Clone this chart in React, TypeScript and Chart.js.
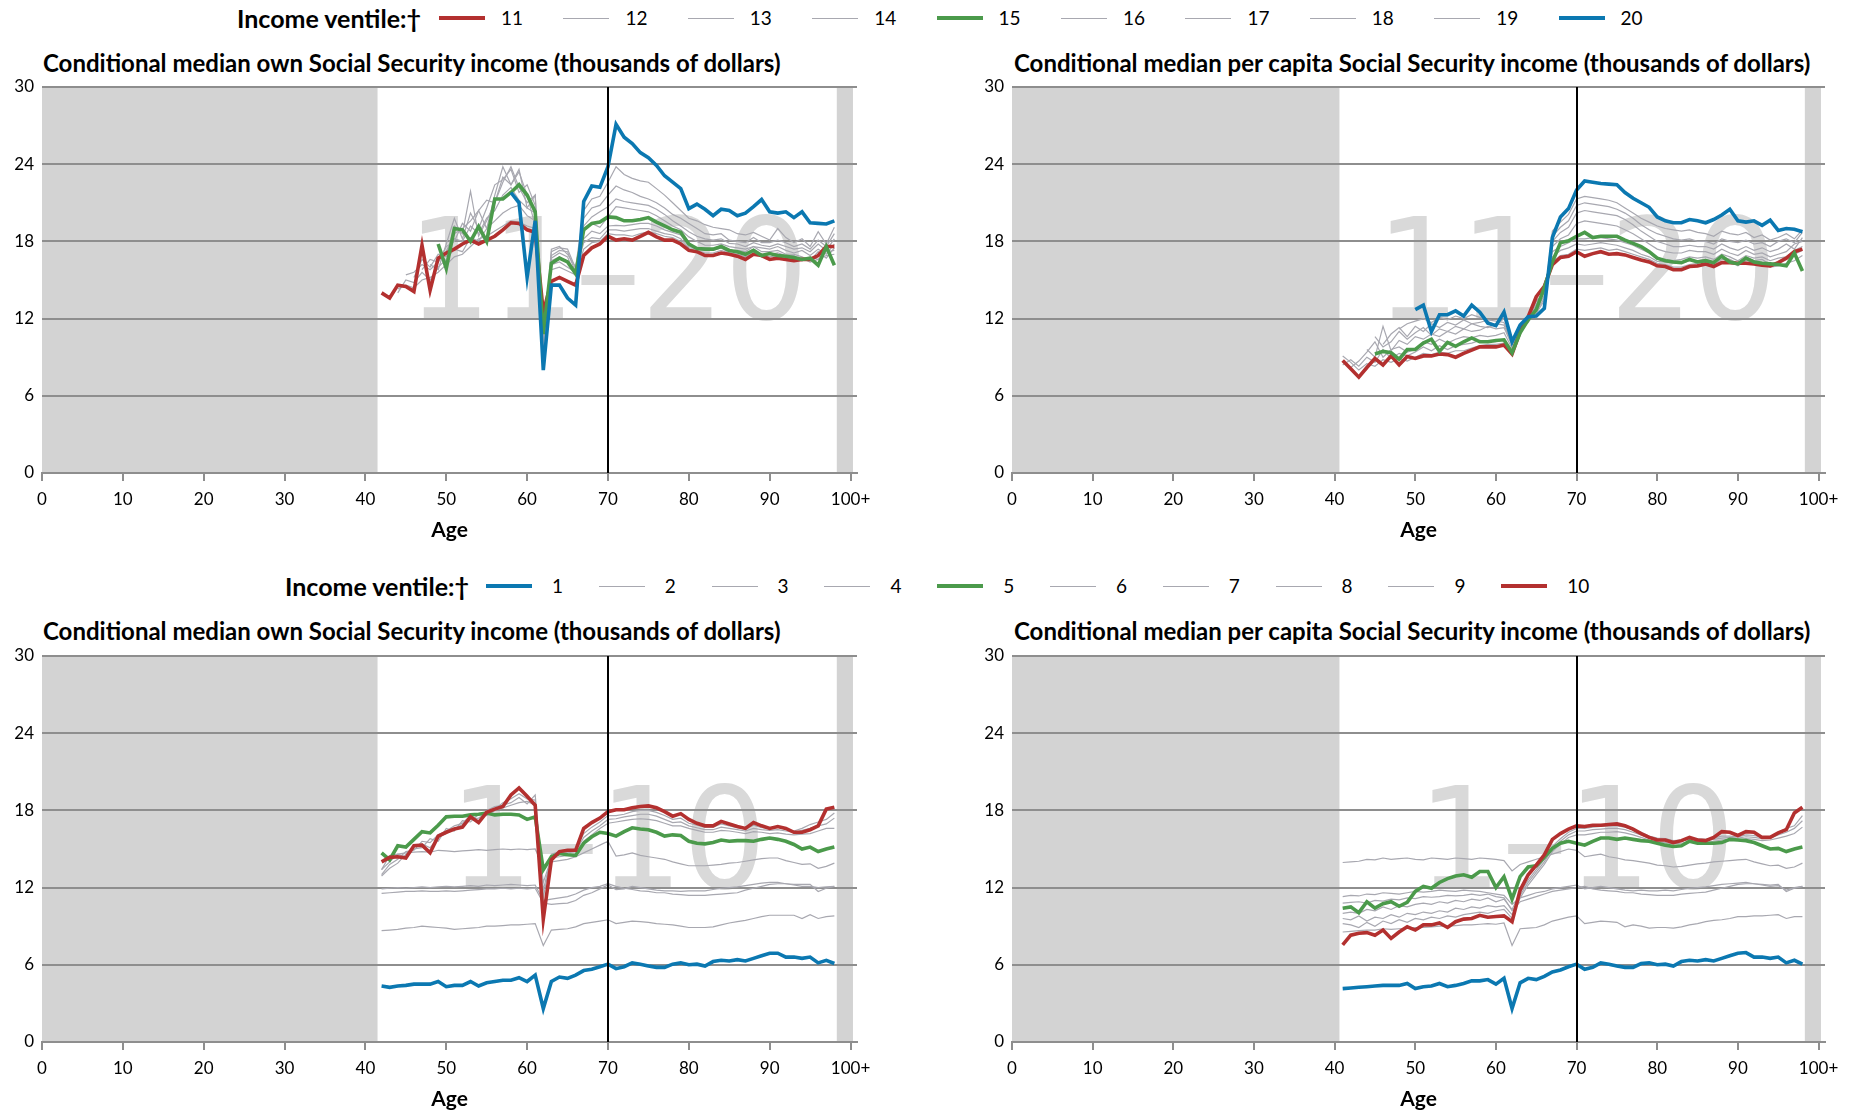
import React, { useEffect, useRef } from 'react';
import { Chart, registerables } from 'chart.js';

Chart.register(...registerables);

const RED = '#b3302f';
const GREEN = '#4b9a4b';
const BLUE = '#0b78b1';
const GRAY = '#a8a8b0';
const GRID = '#8e8e8e';
const SHADE = '#d3d3d3';
const MARK = '#d9d9d9';
const FONT = 'Lato, "Open Sans", sans-serif';
const N = null;

const xTickValues = [0, 10, 20, 30, 40, 50, 60, 70, 80, 90, 100];
const yTickValues = [0, 6, 12, 18, 24, 30];

const ages41 = [41, 42, 43, 44, 45, 46, 47, 48, 49, 50, 51, 52, 53, 54, 55, 56, 57, 58, 59, 60, 61, 62, 63, 64, 65, 66, 67, 68, 69, 70, 71, 72, 73, 74, 75, 76, 77, 78, 79, 80, 81, 82, 83, 84, 85, 86, 87, 88, 89, 90, 91, 92, 93, 94, 95, 96, 97, 98];
const ages42 = [42, 43, 44, 45, 46, 47, 48, 49, 50, 51, 52, 53, 54, 55, 56, 57, 58, 59, 60, 61, 62, 63, 64, 65, 66, 67, 68, 69, 70, 71, 72, 73, 74, 75, 76, 77, 78, 79, 80, 81, 82, 83, 84, 85, 86, 87, 88, 89, 90, 91, 92, 93, 94, 95, 96, 97, 98];

const topLegendLabels = ['11', '12', '13', '14', '15', '16', '17', '18', '19', '20'];
const topLegendColors = [RED, N, N, N, GREEN, N, N, N, N, BLUE];
const bottomLegendLabels = ['1', '2', '3', '4', '5', '6', '7', '8', '9', '10'];
const bottomLegendColors = [BLUE, N, N, N, GREEN, N, N, N, N, RED];

// ---------- Top-left: own SS income, ventiles 11-20 (ages 42..98)
const tl11 = [14.0, 13.6, 14.6, 14.5, 14.1, 17.7, 14.2, 16.7, 17.1, 17.4, 17.8, 18.1, 17.8, 18.1, 18.4, 18.9, 19.45, 19.4, 18.9, 18.7, 12.5, 14.9, 15.2, 14.9, 14.6, 16.9, 17.5, 17.8, 18.4, 18.1, 18.2, 18.1, 18.4, 18.7, 18.35, 18.1, 18.1, 17.8, 17.3, 17.2, 16.9, 16.9, 17.1, 17.0, 16.85, 16.6, 17.0, 16.9, 16.6, 16.7, 16.6, 16.5, 16.6, 16.6, 16.9, 17.6, 17.6];
const tl15 = [N, N, N, N, N, N, N, 17.8, 15.9, 19.0, 18.9, 18.0, 19.15, 18.0, 21.3, 21.3, 21.8, 22.4, 21.6, 20.3, 10.8, 16.3, 16.7, 16.4, 15.5, 18.9, 19.4, 19.5, 19.9, 19.85, 19.6, 19.6, 19.7, 19.85, 19.5, 19.2, 18.9, 18.7, 17.8, 17.45, 17.4, 17.4, 17.6, 17.3, 17.2, 17.0, 17.3, 16.9, 17.05, 16.9, 16.85, 16.75, 16.6, 16.7, 16.15, 17.6, 16.15];
const tl20 = [N, N, N, N, N, N, N, N, N, N, N, N, N, N, N, N, 21.8, 21.0, 15.2, 19.6, 8.0, 14.6, 14.6, 13.6, 13.05, 21.1, 22.3, 22.2, 23.8, 27.1, 26.1, 25.6, 24.9, 24.5, 23.9, 23.1, 22.6, 22.1, 20.55, 20.9, 20.5, 20.0, 20.5, 20.4, 20.0, 20.2, 20.7, 21.25, 20.3, 20.2, 20.3, 19.85, 20.3, 19.45, 19.4, 19.35, 19.6];
const tl12 = [N, N, 14.3, 14.6, 14.4, 15.0, 15.2, 15.6, 16.2, 16.8, 17.0, 17.6, 18.2, 18.4, 18.8, 19.2, 19.6, 19.5, 19.2, 19.0, 11.5, 15.8, 16.0, 15.7, 15.4, 17.4, 17.9, 18.0, 18.6, 18.5, 18.5, 18.4, 18.6, 18.75, 18.6, 18.4, 18.3, 18.0, 17.4, 17.3, 17.1, 17.1, 17.3, 17.1, 17.0, 16.8, 17.1, 16.9, 16.8, 16.9, 16.8, 16.6, 16.7, 16.4, 16.6, 16.9, 17.0];
const tl13 = [N, N, 14.0, 15.0, 14.8, 15.6, 15.0, 16.0, 16.6, 17.4, 17.2, 18.3, 18.0, 19.0, 19.6, 20.2, 20.6, 20.8, 20.0, 19.6, 11.0, 16.2, 16.4, 16.0, 15.6, 17.9, 18.3, 18.2, 18.9, 18.9, 18.8, 18.9, 19.0, 19.0, 18.8, 18.6, 18.5, 18.2, 17.5, 17.45, 17.3, 17.3, 17.5, 17.1, 17.1, 17.0, 17.4, 17.0, 17.0, 17.1, 16.9, 16.9, 16.5, 16.8, 16.6, 17.2, 17.3];
const tl14 = [N, N, N, 15.4, 15.6, 16.2, 15.8, 16.4, 17.2, 18.2, 18.0, 19.2, 18.6, 19.8, 20.4, 21.6, 22.2, 21.2, 20.6, 20.2, 10.8, 16.5, 16.8, 16.4, 15.8, 18.2, 18.8, 18.6, 19.2, 19.25, 19.2, 19.3, 19.4, 19.4, 19.2, 18.9, 18.7, 18.5, 17.6, 17.5, 17.5, 17.4, 17.7, 17.2, 17.3, 17.2, 17.6, 17.2, 17.2, 17.3, 17.0, 17.0, 16.8, 16.5, 17.2, 16.7, 17.5];
const tl16 = [N, N, N, N, 15.2, 16.6, 16.0, 17.0, 16.8, 19.2, 18.6, 21.9, 18.4, 19.6, 21.0, 22.6, 23.8, 22.2, 21.0, 21.6, 10.5, 16.7, 17.1, 16.8, 15.3, 18.8, 19.4, 19.1, 19.9, 20.7, 20.6, 20.5, 20.4, 20.3, 20.0, 19.6, 19.2, 18.9, 18.35, 18.0, 17.7, 17.7, 17.8, 17.6, 17.5, 17.4, 17.6, 17.5, 17.4, 17.6, 17.3, 17.1, 17.3, 16.9, 17.4, 17.0, 17.8];
const tl17 = [N, N, N, N, N, 15.8, 16.6, 16.4, 17.6, 18.0, 19.4, 18.8, 20.4, 19.0, 21.6, 23.8, 22.4, 23.4, 21.6, 19.2, 10.2, 16.9, 17.3, 17.2, 15.6, 19.2, 19.9, 20.3, 20.7, 21.3, 21.1, 21.0, 20.9, 20.8, 20.5, 20.1, 19.6, 19.2, 18.75, 18.4, 18.2, 18.1, 18.2, 17.85, 17.8, 17.6, 17.9, 17.7, 17.6, 17.8, 17.6, 17.4, 17.5, 17.2, 17.8, 17.3, 18.2];
const tl18 = [N, N, N, N, N, N, 16.2, 15.8, 17.8, 19.8, 18.2, 20.2, 19.0, 20.6, 22.4, 22.8, 23.6, 21.8, 22.4, 20.8, 9.8, 17.2, 17.5, 17.4, 15.9, 19.8, 20.6, 20.8, 21.6, 22.3, 22.0, 21.8, 21.5, 21.3, 21.0, 20.6, 20.1, 19.8, 19.4, 19.0, 18.6, 18.5, 18.6, 18.1, 18.0, 17.9, 18.3, 17.9, 17.9, 18.1, 17.9, 17.6, 17.8, 17.4, 18.1, 17.6, 18.6];
const tl19 = [N, N, N, N, N, N, N, N, 17.2, 18.6, 19.0, 19.6, 20.4, 21.2, 21.0, 23.0, 22.4, 23.6, 20.6, 21.6, 9.2, 17.4, 17.6, 17.0, 16.0, 20.4, 21.3, 21.5, 22.6, 23.8, 23.2, 22.9, 22.7, 22.6, 22.1, 21.6, 21.0, 20.4, 19.8, 19.6, 19.3, 19.1, 19.0, 18.9, 18.6, 18.5, 18.7, 18.4, 18.1, 19.0, 18.3, 17.9, 18.2, 17.6, 18.75, 17.8, 19.1];

// ---------- Top-right: per capita SS income, ventiles 11-20 (ages 41..98)
const tr11 = [8.75, 8.1, 7.45, 8.2, 8.9, 8.4, 9.1, 8.4, 9.05, 8.9, 9.1, 9.1, 9.25, 9.2, 9.0, 9.3, 9.55, 9.8, 9.8, 9.8, 9.95, 9.25, 11.0, 12.15, 13.7, 14.5, 16.2, 16.75, 16.85, 17.2, 16.85, 17.05, 17.2, 17.0, 17.05, 16.95, 16.75, 16.55, 16.4, 16.1, 16.05, 15.8, 15.8, 16.05, 16.1, 16.25, 16.05, 16.35, 16.35, 16.3, 16.3, 16.25, 16.15, 16.1, 16.35, 16.7, 17.2, 17.4];
const tr15 = [N, N, N, N, 9.25, 9.45, 9.35, 8.85, 9.6, 9.6, 10.1, 10.4, 9.45, 10.15, 9.85, 10.2, 10.5, 10.2, 10.2, 10.3, 10.35, 9.35, 10.9, 11.9, 12.7, 14.4, 16.4, 17.9, 18.05, 18.4, 18.7, 18.3, 18.4, 18.4, 18.4, 18.1, 17.85, 17.6, 17.2, 16.7, 16.5, 16.4, 16.35, 16.6, 16.4, 16.5, 16.35, 16.85, 16.4, 16.25, 16.7, 16.4, 16.3, 16.25, 16.2, 16.1, 17.1, 15.7];
const tr20 = [N, N, N, N, N, N, N, N, N, 12.7, 13.05, 11.0, 12.3, 12.3, 12.6, 12.2, 13.05, 12.5, 11.65, 11.45, 12.5, 10.2, 11.5, 12.15, 12.2, 12.8, 18.3, 19.9, 20.55, 22.0, 22.7, 22.6, 22.5, 22.45, 22.4, 21.8, 21.35, 21.0, 20.65, 19.9, 19.6, 19.45, 19.45, 19.7, 19.6, 19.45, 19.7, 20.05, 20.5, 19.6, 19.5, 19.6, 19.25, 19.65, 18.85, 19.0, 18.95, 18.75];
const tr12 = [9.1, 8.6, 8.0, 8.5, 8.3, 8.8, 8.6, 8.9, 8.7, 9.0, 9.3, 9.2, 9.4, 9.3, 9.5, 9.5, 9.7, 9.9, 10.0, 10.0, 10.1, 9.3, 10.9, 12.1, 13.4, 14.0, 16.4, 16.9, 17.0, 17.4, 17.3, 17.4, 17.5, 17.3, 17.4, 17.2, 17.0, 16.8, 16.6, 16.3, 16.2, 16.0, 16.0, 16.2, 16.3, 16.4, 16.2, 16.6, 16.5, 16.1, 16.5, 16.4, 16.3, 16.0, 16.1, 16.3, 16.5, 16.9];
const tr13 = [8.4, 8.8, 8.3, 9.0, 8.6, 9.6, 8.9, 9.3, 9.1, 9.4, 9.8, 9.5, 9.9, 9.6, 9.9, 10.0, 10.1, 10.3, 10.2, 10.2, 10.4, 9.5, 11.0, 12.0, 13.3, 14.1, 16.8, 17.3, 17.5, 17.8, 17.7, 17.8, 17.9, 17.8, 17.7, 17.5, 17.3, 17.0, 16.8, 16.45, 16.4, 16.3, 16.3, 16.5, 16.5, 16.6, 16.4, 16.8, 16.6, 16.3, 16.8, 16.5, 16.6, 16.2, 16.4, 16.6, 17.0, 17.3];
const tr14 = [N, 8.2, 8.7, 9.4, 10.2, 9.0, 9.6, 9.8, 9.4, 9.6, 10.2, 10.0, 10.4, 10.1, 10.4, 10.6, 10.5, 10.7, 10.6, 10.7, 10.9, 9.7, 11.1, 11.9, 13.1, 14.2, 17.2, 17.6, 17.9, 18.2, 18.2, 18.3, 18.3, 18.2, 18.1, 17.9, 17.7, 17.4, 17.1, 16.6, 16.6, 16.5, 16.6, 16.8, 16.7, 16.8, 16.6, 17.0, 16.8, 16.5, 16.9, 16.7, 16.8, 16.5, 16.7, 16.8, 17.3, 17.6];
const tr16 = [N, N, N, 9.6, 9.0, 11.4, 9.5, 10.3, 10.0, 10.6, 10.4, 10.8, 10.6, 11.0, 10.8, 11.2, 11.0, 11.1, 11.4, 11.2, 11.3, 9.9, 11.2, 11.8, 12.9, 14.0, 17.6, 18.2, 18.5, 19.4, 19.6, 19.5, 19.4, 19.3, 19.2, 18.9, 18.6, 18.2, 17.8, 17.4, 17.2, 17.1, 17.1, 17.3, 17.2, 17.2, 17.0, 17.4, 17.1, 16.9, 17.3, 17.0, 17.1, 16.8, 17.0, 17.2, 17.8, 18.0];
const tr17 = [N, N, N, N, 10.6, 9.8, 10.2, 11.0, 10.4, 10.9, 11.3, 10.7, 11.2, 11.0, 11.4, 11.2, 11.6, 11.4, 11.3, 11.6, 11.5, 10.0, 11.3, 11.7, 12.7, 13.8, 18.0, 18.7, 19.1, 20.2, 20.4, 20.3, 20.2, 20.1, 20.0, 19.7, 19.3, 18.8, 18.4, 18.0, 17.8, 17.6, 17.6, 17.7, 17.6, 17.6, 17.4, 17.8, 17.5, 17.3, 17.6, 17.3, 17.5, 17.2, 17.4, 17.8, 17.4, 18.3];
const tr18 = [N, N, N, N, N, 10.0, 10.8, 11.3, 10.6, 11.4, 11.0, 11.6, 11.3, 11.7, 11.5, 11.9, 11.6, 11.7, 11.9, 11.8, 11.7, 10.1, 11.4, 11.8, 12.5, 13.6, 18.4, 19.1, 19.6, 20.8, 21.0, 20.9, 20.8, 20.7, 20.5, 20.2, 19.8, 19.3, 18.9, 18.6, 18.4, 18.2, 18.1, 18.2, 18.0, 18.0, 17.8, 18.2, 18.0, 17.9, 18.1, 17.8, 17.9, 17.6, 18.0, 18.2, 17.9, 18.7];
const tr19 = [N, N, N, N, N, N, N, 11.2, 11.6, 11.8, 12.0, 11.7, 12.1, 11.9, 12.2, 12.0, 12.3, 12.1, 11.8, 11.5, 12.0, 10.3, 11.3, 11.9, 12.4, 13.4, 18.8, 19.5, 20.1, 21.3, 21.5, 21.4, 21.3, 21.2, 21.0, 20.6, 20.2, 19.8, 19.5, 19.2, 19.0, 18.9, 18.8, 18.9, 18.7, 18.6, 18.4, 18.8, 18.6, 18.5, 18.7, 18.3, 18.5, 18.1, 18.3, 18.6, 18.2, 18.9];

// ---------- Bottom-left: own SS income, ventiles 1-10 (ages 42..98)
const bl10 = [14.0, 14.35, 14.4, 14.3, 15.25, 15.3, 14.7, 16.0, 16.3, 16.55, 16.7, 17.5, 17.05, 17.85, 18.1, 18.3, 19.2, 19.75, 19.1, 18.4, 9.55, 14.15, 14.8, 14.9, 14.9, 16.6, 17.05, 17.4, 17.9, 18.05, 18.05, 18.2, 18.3, 18.35, 18.2, 17.9, 17.55, 17.75, 17.3, 17.0, 16.8, 16.8, 17.15, 16.95, 16.75, 16.6, 17.05, 16.8, 16.6, 16.75, 16.6, 16.3, 16.3, 16.5, 16.8, 18.1, 18.25];
const bl5 = [14.7, 14.15, 15.25, 15.15, 15.75, 16.35, 16.25, 16.85, 17.5, 17.55, 17.55, 17.65, 17.7, 17.8, 17.65, 17.7, 17.7, 17.65, 17.3, 17.5, 13.4, 14.4, 14.65, 14.55, 14.5, 15.45, 15.95, 16.3, 16.2, 16.0, 16.35, 16.65, 16.55, 16.5, 16.3, 16.0, 16.1, 16.05, 15.6, 15.45, 15.4, 15.5, 15.7, 15.6, 15.65, 15.65, 15.6, 15.75, 15.85, 15.75, 15.6, 15.35, 15.0, 15.15, 14.8, 15.0, 15.15];
const bl1 = [4.35, 4.25, 4.35, 4.4, 4.5, 4.5, 4.5, 4.7, 4.3, 4.4, 4.4, 4.7, 4.35, 4.6, 4.7, 4.8, 4.8, 5.0, 4.7, 5.2, 2.6, 4.7, 5.05, 4.95, 5.2, 5.55, 5.65, 5.85, 6.05, 5.7, 5.85, 6.15, 6.05, 5.9, 5.8, 5.8, 6.05, 6.15, 6.0, 6.05, 5.9, 6.25, 6.35, 6.3, 6.4, 6.3, 6.5, 6.7, 6.9, 6.9, 6.6, 6.6, 6.5, 6.6, 6.15, 6.35, 6.1];
const bl2 = [8.65, 8.7, 8.75, 8.85, 8.9, 9.0, 8.95, 8.9, 8.85, 8.75, 8.8, 8.85, 8.9, 9.0, 9.0, 9.05, 9.1, 9.1, 9.15, 9.2, 7.5, 8.7, 8.75, 8.8, 8.95, 9.2, 9.3, 9.4, 9.5, 9.2, 9.3, 9.4, 9.35, 9.3, 9.2, 9.15, 9.1, 9.0, 8.9, 8.9, 8.9, 8.95, 9.1, 9.25, 9.35, 9.45, 9.6, 9.75, 9.85, 9.85, 9.85, 9.85, 9.6, 9.9, 9.6, 9.75, 9.8];
const bl3 = [11.55, 11.6, 11.65, 11.7, 11.7, 11.75, 11.7, 11.7, 11.75, 11.7, 11.75, 11.8, 11.85, 11.9, 11.9, 11.95, 11.9, 11.95, 11.9, 11.95, 10.8, 10.7, 10.75, 10.8, 11.0, 11.4, 11.6, 11.9, 12.2, 11.85, 11.9, 12.1, 12.0, 11.9, 11.8, 11.75, 11.75, 11.7, 11.75, 11.75, 11.75, 11.85, 11.95, 12.0, 12.05, 12.15, 12.25, 12.35, 12.4, 12.4, 12.3, 12.2, 12.1, 12.1, 12.0, 12.05, 12.1];
const bl4 = [11.9, 11.95, 12.0, 11.95, 12.0, 12.05, 12.0, 12.05, 12.1, 12.05, 12.1, 12.15, 12.1, 12.2, 12.15, 12.2, 12.25, 12.2, 12.15, 12.2, 11.0, 11.1, 11.2, 11.3, 11.5, 11.8, 12.0, 12.1, 12.3, 12.1, 11.95, 11.85, 11.75, 11.7, 11.6, 11.6, 11.5, 11.45, 11.4, 11.4, 11.4, 11.45, 11.5, 11.55, 11.6, 11.8, 11.95, 12.1, 12.25, 12.3, 12.3, 12.25, 12.25, 12.25, 11.7, 11.95, 12.1];
const bl6 = [13.4, 14.5, 14.6, 14.7, 14.75, 14.8, 14.75, 14.9, 14.85, 14.8, 14.85, 14.9, 14.95, 14.9, 14.95, 15.0, 14.95, 15.0, 14.95, 15.0, 13.6, 14.0, 14.1, 14.2, 14.4, 14.7, 15.0, 15.3, 15.6, 14.45, 14.55, 14.7, 14.5, 14.4, 14.3, 14.2, 14.0, 13.85, 13.7, 13.7, 13.7, 13.75, 13.8, 13.9, 13.95, 14.05, 14.15, 14.25, 14.3, 14.3, 14.1, 13.95, 13.8, 13.85, 13.5, 13.65, 13.9];
const bl7 = [12.9, 13.5, 13.9, 14.6, 15.0, 15.1, 15.8, 15.6, 16.6, 16.4, 17.2, 17.1, 17.7, 17.6, 18.0, 18.2, 18.4, 18.6, 18.7, 18.4, 12.4, 14.3, 14.4, 14.5, 14.6, 15.6, 16.1, 16.6, 17.0, 17.1, 17.2, 17.3, 17.35, 17.3, 17.2, 17.0, 16.8, 16.8, 16.6, 16.45, 16.3, 16.3, 16.45, 16.4, 16.3, 16.2, 16.35, 16.3, 16.2, 16.25, 16.15, 16.1, 16.15, 16.2, 16.4, 16.6, 16.6];
const bl8 = [13.0, 13.8, 14.2, 14.8, 14.9, 15.6, 15.5, 16.1, 16.4, 16.8, 17.0, 17.6, 17.2, 18.0, 18.3, 18.4, 18.6, 19.0, 18.5, 19.2, 11.8, 14.4, 14.6, 14.7, 14.8, 15.9, 16.4, 16.8, 17.3, 17.35, 17.5, 17.6, 17.7, 17.7, 17.55, 17.3, 17.05, 17.1, 16.8, 16.65, 16.5, 16.5, 16.7, 16.6, 16.5, 16.4, 16.6, 16.5, 16.45, 16.5, 16.4, 16.3, 16.45, 16.6, 16.8, 16.95, 17.4];
const bl9 = [13.4, 14.0, 14.6, 14.4, 15.2, 15.4, 15.1, 15.9, 16.2, 16.6, 16.9, 17.3, 17.4, 17.8, 18.1, 18.6, 18.9, 19.3, 18.9, 18.8, 11.2, 14.6, 14.8, 14.9, 15.0, 16.2, 16.7, 17.1, 17.6, 17.6, 17.7, 17.9, 18.0, 18.0, 17.85, 17.6, 17.3, 17.4, 17.0, 16.85, 16.7, 16.7, 16.95, 16.8, 16.65, 16.55, 16.85, 16.65, 16.6, 16.7, 16.55, 16.4, 16.6, 16.9, 17.1, 17.3, 17.8];

// ---------- Bottom-right: per capita SS income, ventiles 1-10 (ages 41..98)
const br10 = [7.55, 8.3, 8.45, 8.5, 8.3, 8.7, 8.05, 8.55, 8.95, 8.7, 9.1, 9.1, 9.25, 8.9, 9.35, 9.55, 9.6, 9.85, 9.7, 9.75, 9.8, 9.35, 11.8, 13.0, 13.75, 14.55, 15.75, 16.2, 16.55, 16.8, 16.75, 16.85, 16.85, 16.9, 16.95, 16.8, 16.55, 16.2, 15.9, 15.7, 15.7, 15.5, 15.65, 15.9, 15.7, 15.65, 15.9, 16.35, 16.3, 16.05, 16.35, 16.3, 15.9, 15.9, 16.25, 16.5, 17.8, 18.25];
const br5 = [10.4, 10.5, 10.05, 10.9, 10.4, 10.75, 10.9, 10.55, 10.85, 11.7, 12.1, 11.95, 12.4, 12.7, 12.9, 13.0, 12.8, 13.25, 13.25, 12.0, 12.85, 11.1, 12.85, 13.6, 13.7, 14.35, 15.05, 15.45, 15.6, 15.45, 15.3, 15.6, 15.85, 15.85, 15.75, 15.85, 15.75, 15.65, 15.6, 15.45, 15.3, 15.2, 15.25, 15.6, 15.45, 15.45, 15.45, 15.5, 15.75, 15.7, 15.65, 15.5, 15.25, 15.0, 15.05, 14.8, 15.0, 15.15];
const br1 = [4.15, 4.2, 4.25, 4.3, 4.35, 4.4, 4.4, 4.4, 4.55, 4.15, 4.3, 4.35, 4.55, 4.3, 4.4, 4.55, 4.75, 4.75, 4.85, 4.5, 4.95, 2.6, 4.6, 4.95, 4.85, 5.1, 5.45, 5.6, 5.85, 6.05, 5.65, 5.8, 6.15, 6.05, 5.9, 5.8, 5.8, 6.1, 6.15, 6.0, 6.05, 5.9, 6.25, 6.35, 6.3, 6.4, 6.3, 6.5, 6.7, 6.9, 6.95, 6.6, 6.6, 6.5, 6.6, 6.15, 6.35, 6.05];
const br2 = [8.55, 8.6, 8.65, 8.7, 8.7, 8.8, 8.75, 8.8, 8.85, 8.9, 8.9, 8.95, 9.0, 9.0, 9.05, 9.1, 9.1, 9.15, 9.2, 9.15, 9.25, 7.5, 8.8, 8.85, 8.9, 9.1, 9.4, 9.55, 9.7, 9.8, 9.2, 9.3, 9.4, 9.35, 9.3, 8.95, 9.1, 9.0, 8.85, 8.9, 8.9, 8.85, 8.95, 9.1, 9.2, 9.35, 9.45, 9.5, 9.6, 9.75, 9.75, 9.8, 9.8, 9.85, 9.9, 9.6, 9.75, 9.75];
const br3 = [9.2, 9.1, 8.9, 9.3, 9.0, 9.4, 9.2, 9.5, 9.3, 9.6, 9.5, 9.7, 9.6, 9.8, 9.7, 9.9, 10.0, 10.1, 10.0, 10.2, 10.3, 9.6, 11.2, 12.2, 13.0, 13.8, 14.8, 15.4, 15.9, 16.1, 16.1, 16.2, 16.3, 16.3, 16.35, 16.25, 16.1, 15.9, 15.7, 15.55, 15.5, 15.4, 15.45, 15.6, 15.55, 15.5, 15.6, 15.7, 15.75, 15.7, 15.8, 15.75, 15.65, 15.7, 15.85, 16.0, 16.2, 16.7];
const br4 = [9.6, 9.5, 9.8, 9.4, 9.7, 9.6, 9.9, 9.7, 10.0, 9.9, 10.1, 10.0, 10.2, 10.1, 10.4, 10.3, 10.5, 10.4, 10.6, 10.5, 10.6, 9.9, 11.4, 12.4, 13.2, 14.0, 15.0, 15.6, 16.1, 16.4, 16.4, 16.5, 16.55, 16.6, 16.6, 16.5, 16.3, 16.1, 15.85, 15.7, 15.65, 15.55, 15.6, 15.75, 15.7, 15.65, 15.75, 15.85, 15.9, 15.85, 15.95, 15.9, 15.8, 15.85, 16.1, 16.3, 16.6, 17.2];
const br6 = [10.0, 10.1, 10.0, 10.3, 10.2, 10.5, 10.3, 10.6, 10.5, 10.7, 10.8, 10.7, 10.9, 10.8, 11.0, 10.9, 11.1, 11.0, 11.2, 10.9, 11.1, 10.3, 11.6, 12.6, 13.4, 14.2, 15.2, 15.8, 16.3, 16.6, 16.6, 16.7, 16.75, 16.8, 16.8, 16.7, 16.5, 16.3, 16.0, 15.85, 15.8, 15.65, 15.7, 15.85, 15.8, 15.75, 15.85, 16.0, 16.0, 15.95, 16.1, 16.05, 15.9, 15.95, 16.3, 16.6, 16.8, 17.6];
const br7 = [10.8, 10.85, 10.9, 10.8, 11.0, 10.95, 11.1, 11.05, 11.2, 11.15, 11.3, 11.25, 11.3, 11.4, 11.35, 11.4, 11.5, 11.4, 11.5, 11.3, 11.2, 10.2, 10.9, 11.1, 11.3, 11.5, 11.7, 11.8, 11.9, 12.0, 12.1, 11.9, 11.8, 11.75, 11.7, 11.6, 11.6, 11.5, 11.45, 11.4, 11.4, 11.4, 11.5, 11.55, 11.6, 11.65, 11.8, 11.95, 12.1, 12.25, 12.3, 12.3, 12.25, 12.2, 12.25, 11.7, 11.95, 12.1];
const br8 = [11.3, 11.4, 11.35, 11.5, 11.45, 11.6, 11.55, 11.5, 11.6, 11.7, 11.65, 11.7, 11.8, 11.75, 11.7, 11.8, 11.75, 11.7, 11.6, 11.5, 11.4, 10.7, 11.2, 11.4, 11.6, 11.7, 11.9, 12.0, 12.1, 12.2, 11.9, 12.0, 12.1, 12.0, 11.9, 11.8, 11.75, 11.8, 11.75, 11.75, 11.8, 11.75, 11.85, 11.95, 12.0, 12.05, 12.15, 12.25, 12.3, 12.35, 12.4, 12.3, 12.2, 12.1, 12.15, 11.8, 12.0, 12.1];
const br9 = [13.95, 14.0, 14.05, 14.2, 14.15, 14.3, 14.2, 14.25, 14.3, 14.2, 14.15, 14.3, 14.25, 14.2, 14.3, 14.25, 14.2, 14.3, 14.25, 14.2, 14.1, 13.3, 13.8, 14.0, 14.2, 14.4, 14.6, 14.8, 15.0, 14.9, 14.4, 14.5, 14.6, 14.4, 14.3, 14.15, 14.1, 14.0, 13.9, 13.75, 13.7, 13.6, 13.65, 13.75, 13.85, 13.9, 14.0, 14.05, 14.1, 14.15, 14.2, 14.0, 13.85, 13.7, 13.75, 13.5, 13.6, 13.9];

const OWN_TITLE = 'Conditional median own Social Security income (thousands of dollars)';
const PC_TITLE = 'Conditional median per capita Social Security income (thousands of dollars)';

type Hi = { vals: (number | null)[]; color: string; order: number };
type PanelCfg = {
  left: number; top: number; padRight: number; ages: number[]; shadeEnd: number; mark: string;
  grays: (number | null)[][]; highs: Hi[];
};

const panels: PanelCfg[] = [
  { left: 0, top: 70, padRight: 23, ages: ages42, shadeEnd: 41.5, mark: '11–20',
    grays: [tl12, tl13, tl14, tl16, tl17, tl18, tl19],
    highs: [{ vals: tl20, color: BLUE, order: 0 }, { vals: tl15, color: GREEN, order: 1 }, { vals: tl11, color: RED, order: 2 }] },
  { left: 970, top: 70, padRight: 25, ages: ages41, shadeEnd: 40.6, mark: '11–20',
    grays: [tr12, tr13, tr14, tr16, tr17, tr18, tr19],
    highs: [{ vals: tr20, color: BLUE, order: 0 }, { vals: tr15, color: GREEN, order: 1 }, { vals: tr11, color: RED, order: 2 }] },
  { left: 0, top: 639, padRight: 23, ages: ages42, shadeEnd: 41.5, mark: '1–10',
    grays: [bl2, bl3, bl4, bl6, bl7, bl8, bl9],
    highs: [{ vals: bl1, color: BLUE, order: 0 }, { vals: bl10, color: RED, order: 1 }, { vals: bl5, color: GREEN, order: 2 }] },
  { left: 970, top: 639, padRight: 25, ages: ages41, shadeEnd: 40.6, mark: '1–10',
    grays: [br2, br3, br4, br6, br7, br8, br9],
    highs: [{ vals: br1, color: BLUE, order: 0 }, { vals: br10, color: RED, order: 1 }, { vals: br5, color: GREEN, order: 2 }] },
];

const SHADE_RIGHT = [98.3, 100.3];
const X_MAX = 100.8;
const CANVAS_W = 880;
const CANVAS_H = 473;

function toPoints(ages: number[], vals: (number | null)[]) {
  return ages.map((a, i) => ({ x: a, y: vals[i] === undefined ? null : vals[i] }));
}

function Panel({ cfg }: { cfg: PanelCfg }) {
  const ref = useRef<HTMLCanvasElement | null>(null);
  useEffect(() => {
    const canvas = ref.current;
    if (!canvas) return;
    const decor = {
      id: 'decor',
      beforeDraw(chart: any) {
        const { ctx, chartArea: a, scales } = chart;
        const x = scales.x, y = scales.y;
        ctx.save();
        ctx.fillStyle = SHADE;
        const x0 = x.getPixelForValue(0), x1 = x.getPixelForValue(cfg.shadeEnd);
        ctx.fillRect(x0, a.top, x1 - x0, a.bottom - a.top);
        const x2 = x.getPixelForValue(SHADE_RIGHT[0]), x3 = x.getPixelForValue(SHADE_RIGHT[1]);
        ctx.fillRect(x2, a.top, x3 - x2, a.bottom - a.top);
        ctx.beginPath();
        ctx.rect(a.left, a.top, a.right - a.left, a.bottom - a.top);
        ctx.clip();
        ctx.fillStyle = MARK;
        ctx.font = '140px "DejaVu Sans"';
        ctx.textAlign = 'center';
        ctx.textBaseline = 'alphabetic';
        ctx.translate(x.getPixelForValue(70), y.getPixelForValue(12));
        ctx.scale(0.94, 1);
        ctx.fillText(cfg.mark, 0, 0);
        ctx.restore();
      },
      afterDatasetsDraw(chart: any) {
        const { ctx, chartArea: a, scales } = chart;
        const px = Math.round(scales.x.getPixelForValue(70));
        ctx.save();
        ctx.strokeStyle = '#000';
        ctx.lineWidth = 2;
        ctx.beginPath();
        ctx.moveTo(px, a.top);
        ctx.lineTo(px, a.bottom);
        ctx.stroke();
        ctx.restore();
      },
    };
    const datasets: any[] = [
      ...cfg.grays.map((g) => ({ data: toPoints(cfg.ages, g), borderColor: GRAY, borderWidth: 1.2, order: 3 })),
      ...cfg.highs.map((h) => ({ data: toPoints(cfg.ages, h.vals), borderColor: h.color, borderWidth: 3.6, order: h.order })),
    ];
    const chart = new Chart(canvas, {
      type: 'line',
      data: { datasets },
      options: {
        animation: false,
        responsive: false,
        maintainAspectRatio: false,
        events: [],
        layout: { padding: { top: 17, right: cfg.padRight, bottom: 0, left: 0 } },
        plugins: { legend: { display: false }, tooltip: { enabled: false }, title: { display: false } },
        elements: { point: { radius: 0 }, line: { tension: 0, fill: false } },
        scales: {
          x: {
            type: 'linear', min: 0, max: X_MAX,
            afterBuildTicks: (s: any) => { s.ticks = xTickValues.map((v) => ({ value: v })); },
            afterFit: (s: any) => { s.height = 70; s.paddingLeft = 0; s.paddingRight = 0; },
            ticks: {
              callback: (v: any) => (Number(v) === 100 ? '100+' : String(v)),
              font: { family: FONT, size: 17 }, color: '#000', padding: 8, maxRotation: 0, autoSkip: false,
            },
            grid: { drawOnChartArea: false, drawTicks: true, tickLength: 8, color: GRID, lineWidth: 2 },
            border: { display: true, color: GRID, width: 2 },
            title: { display: true, text: 'Age', font: { family: FONT, size: 21, weight: 'bold' }, color: '#000', padding: { top: 0, bottom: 0 } },
          },
          y: {
            type: 'linear', min: 0, max: 30,
            afterBuildTicks: (s: any) => { s.ticks = yTickValues.map((v) => ({ value: v })); },
            afterFit: (s: any) => { s.width = 42; s.paddingTop = 0; s.paddingBottom = 0; },
            ticks: { font: { family: FONT, size: 17 }, color: '#000', padding: 8 },
            grid: { color: GRID, lineWidth: 2, drawTicks: false },
            border: { display: false },
          },
        },
      } as any,
      plugins: [decor],
    });
    return () => chart.destroy();
  }, [cfg]);
  return (
    <canvas ref={ref} width={CANVAS_W} height={CANVAS_H}
      style={{ position: 'absolute', left: cfg.left, top: cfg.top, width: CANVAS_W, height: CANVAS_H }} />
  );
}

function Legend({ y, titleX, firstX, pitch, labelOffset, labels, colors }: {
  y: number; titleX: number; firstX: number; pitch: number; labelOffset: number; labels: string[]; colors: (string | null)[];
}) {
  return (
    <>
      <div style={{ position: 'absolute', left: titleX, top: y, transform: 'translateY(-50%)', font: `bold 25px ${FONT}`, whiteSpace: 'nowrap', lineHeight: '30px' }}>
        Income ventile:†
      </div>
      {labels.map((l, i) => (
        <React.Fragment key={l}>
          <div style={{ position: 'absolute', left: firstX + i * pitch, top: y - (colors[i] ? 2 : 0.5), width: 46, height: colors[i] ? 4 : 1, background: colors[i] || GRAY }} />
          <div style={{ position: 'absolute', left: firstX + i * pitch + labelOffset, top: y, transform: 'translateY(-50%)', font: `19px ${FONT}`, lineHeight: '22px' }}>{l}</div>
        </React.Fragment>
      ))}
    </>
  );
}

function Title({ x, y, text }: { x: number; y: number; text: string }) {
  return (
    <div style={{ position: 'absolute', left: x, top: y, transform: 'translateY(-50%)', font: `bold 24px ${FONT}`, whiteSpace: 'nowrap', lineHeight: '28px' }}>
      {text}
    </div>
  );
}

export default function App() {
  return (
    <div style={{ position: 'fixed', left: 0, top: 0, width: 1860, height: 1111, background: '#fff', color: '#000', overflow: 'hidden' }}>
      <Legend y={18} titleX={237} firstX={439} pitch={124.4} labelOffset={62} labels={topLegendLabels} colors={topLegendColors} />
      <Legend y={586} titleX={285} firstX={486} pitch={112.8} labelOffset={66} labels={bottomLegendLabels} colors={bottomLegendColors} />
      <Title x={43} y={63} text={OWN_TITLE} />
      <Title x={1014} y={63} text={PC_TITLE} />
      <Title x={43} y={631} text={OWN_TITLE} />
      <Title x={1014} y={631} text={PC_TITLE} />
      {panels.map((p, i) => <Panel key={i} cfg={p} />)}
    </div>
  );
}
